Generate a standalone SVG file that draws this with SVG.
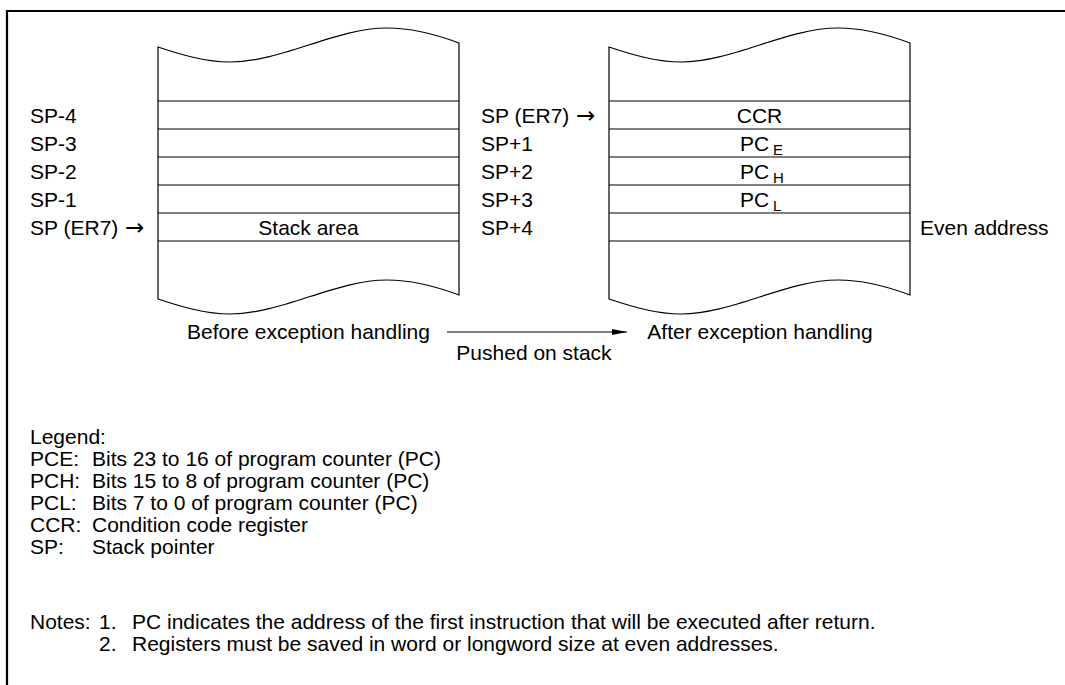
<svg xmlns="http://www.w3.org/2000/svg" width="1065" height="685" viewBox="0 0 1065 685">
<defs>
<style>
text{font-family:"Liberation Sans",Arial,sans-serif;font-size:21px;fill:#000}
.mid{text-anchor:middle}
.sub{font-size:15px}
.arr{font-family:"DejaVu Sans",sans-serif;font-size:23px}
.box{fill:#fff;stroke:#000;stroke-width:1.2}
.row{stroke:#000;stroke-width:1.2;fill:none}
.frame{stroke:#000;stroke-width:2.2;fill:none}
.conn{stroke:#000;stroke-width:1.2;fill:none}
</style>
<marker id="ah" markerWidth="15" markerHeight="8" refX="15" refY="4" orient="auto" markerUnits="userSpaceOnUse">
<path d="M0,1 L15,4 L0,7 z" fill="#000"/>
</marker>
<path id="stk" d="M0,2 C24,10 48,17 72,17 C124,17 177,-17 229,-17 C253,-17 277,-11 301,-2 L301,250 C277,241 253,235 229,235 C177,235 124,269 72,269 C48,269 24,262 0,254 Z"/>
</defs>
<g id="frame">
<path class="frame" d="M7,685 L7,11 L1065,11"/>
</g>
<g id="stack-before">
<use href="#stk" x="158" y="45" class="box"/>
<path class="row" d="M158,101H459M158,129H459M158,157H459M158,185H459M158,213H459M158,241H459"/>
<text class="mid" x="308.5" y="235">Stack area</text>
</g>
<g id="labels-before">
<text x="30" y="123">SP-4</text>
<text x="30" y="151">SP-3</text>
<text x="30" y="179">SP-2</text>
<text x="30" y="207">SP-1</text>
<text x="30" y="235">SP (ER7) <tspan class="arr" x="125">→</tspan></text>
</g>
<g id="stack-after">
<use href="#stk" x="609" y="45" class="box"/>
<path class="row" d="M609,101H910M609,129H910M609,157H910M609,185H910M609,213H910M609,241H910"/>
<text class="mid" x="759.5" y="123">CCR</text>
<text x="740" y="151">PC<tspan class="sub" x="773" y="155">E</tspan></text>
<text x="740" y="179">PC<tspan class="sub" x="773" y="183">H</tspan></text>
<text x="740" y="207">PC<tspan class="sub" x="773" y="211">L</tspan></text>
</g>
<g id="labels-after">
<text x="481" y="123">SP (ER7) <tspan class="arr" x="576">→</tspan></text>
<text x="481" y="151">SP+1</text>
<text x="481" y="179">SP+2</text>
<text x="481" y="207">SP+3</text>
<text x="481" y="235">SP+4</text>
<text x="920" y="235">Even address</text>
</g>
<g id="captions">
<text class="mid" x="308.5" y="339">Before exception handling</text>
<text class="mid" x="760" y="339">After exception handling</text>
</g>
<g id="connectors">
<line class="conn" x1="447" y1="332" x2="627" y2="332" marker-end="url(#ah)"/>
<text class="mid" x="534" y="360">Pushed on stack</text>
</g>
<g id="legend">
<text x="30" y="444">Legend:</text>
<text x="30" y="466">PCE:<tspan x="92">Bits 23 to 16 of program counter (PC)</tspan></text>
<text x="30" y="488">PCH:<tspan x="92">Bits 15 to 8 of program counter (PC)</tspan></text>
<text x="30" y="510">PCL:<tspan x="92">Bits 7 to 0 of program counter (PC)</tspan></text>
<text x="30" y="532">CCR:<tspan x="92">Condition code register</tspan></text>
<text x="30" y="554">SP:<tspan x="92">Stack pointer</tspan></text>
</g>
<g id="notes">
<text x="30" y="629">Notes:<tspan x="99">1.</tspan><tspan x="132">PC indicates the address of the first instruction that will be executed after return.</tspan></text>
<text x="99" y="651">2.<tspan x="132">Registers must be saved in word or longword size at even addresses.</tspan></text>
</g>
</svg>
